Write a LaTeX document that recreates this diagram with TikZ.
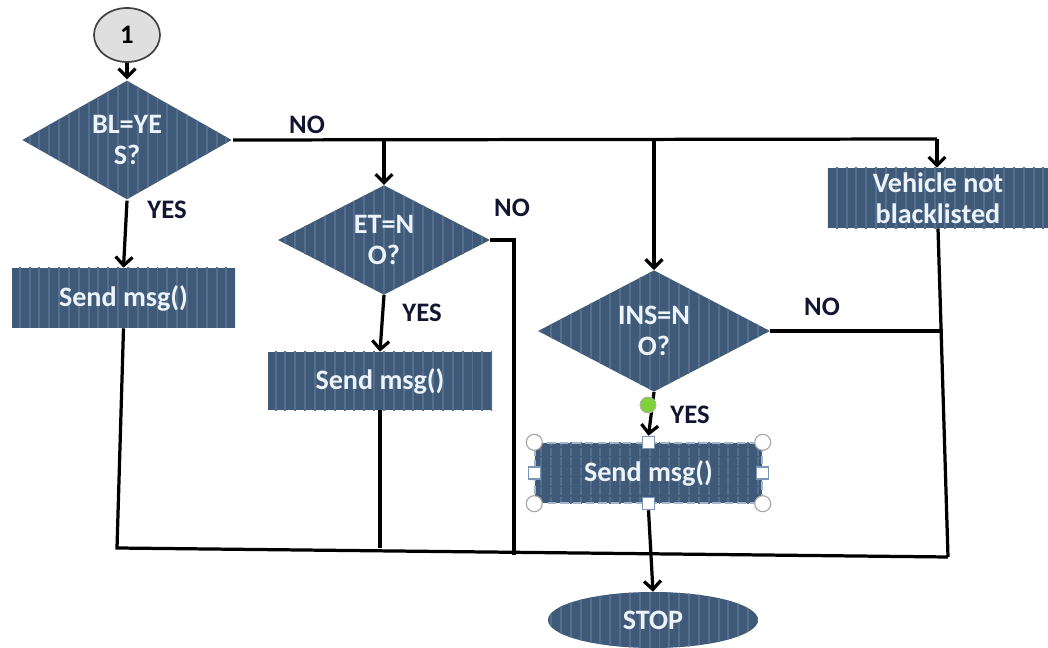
\documentclass[tikz,border=0pt]{standalone}
\usepackage{fontspec}
\setmainfont{Carlito}
\usepackage{xcolor}
\definecolor{shapeblue}{RGB}{63,90,120}
\definecolor{stripeblue}{RGB}{84,110,140}
\definecolor{textblue}{RGB}{236,243,251}
\definecolor{labelnavy}{RGB}{18,22,48}
\definecolor{handleblue}{RGB}{122,150,184}
\definecolor{dotgreen}{RGB}{128,208,60}
\usetikzlibrary{arrows.meta,calc,positioning,shapes.geometric,patterns.meta}

\begin{document}
\begin{tikzpicture}[
  x=0.025cm,
  y=-0.025cm,
  flow/.style={line width=2.3pt,black,-{Straight Barb[length=6pt,width=12pt]}},
  edge/.style={line width=2.3pt,black},
  shapefill/.style={
    preaction={fill=shapeblue},
    pattern={Lines[angle=90,distance=7pt,line width=1.4pt]},
    pattern color=stripeblue
  },
  decision/.style={
    diamond,shapefill,inner sep=0pt,align=center,
    text=textblue,font=\fontsize{20}{22}\selectfont\bfseries
  },
  process/.style={
    rectangle,shapefill,inner sep=0pt,align=center,
    text=textblue,font=\fontsize{20}{22}\selectfont\bfseries
  },
  terminal/.style={
    ellipse,shapefill,inner sep=0pt,
    text=textblue,font=\fontsize{20}{22}\selectfont\bfseries
  },
  connector/.style={
    ellipse,fill=gray!25,draw=black!75,line width=1.2pt,
    font=\fontsize{19}{21}\selectfont\bfseries
  },
  edgelabel/.style={text=labelnavy,font=\fontsize{19}{21}\selectfont\bfseries},
  handleround/.style={circle,fill=white,draw=gray!70,line width=0.8pt,
    minimum size=0.4cm,inner sep=0pt},
  handlesquare/.style={rectangle,fill=white,draw=handleblue,line width=0.8pt,
    minimum size=0.3cm,inner sep=0pt}
]
\useasboundingbox (0,0) rectangle (1048,648);

% Start connector and first decision
\node[connector,minimum width=1.65cm,minimum height=1.35cm] (one) at (127,35) {1};
\node[decision,minimum width=5.25cm,minimum height=2.65cm] (bl) at (127,140) {BL=YE\\S?};

% Second and third decisions
\node[decision,minimum width=5.3cm,minimum height=2.5cm] (et) at (384,240) {ET=N\\O?};
\node[decision,minimum width=5.8cm,minimum height=2.55cm] (ins) at (654,331) {INS=N\\O?};

% Process boxes
\node[process,minimum width=5.575cm,minimum height=1.5cm] (sendA) at (123.5,298) {Send msg()};
\node[process,minimum width=5.6cm,minimum height=1.45cm] (sendB) at (380,381) {Send msg()};
\node[process,minimum width=5.675cm,minimum height=1.5cm,
  draw=handleblue!70!white,dash pattern=on 6pt off 3pt,line width=1pt]
  (sendC) at (648.5,473) {Send msg()};
\node[process,minimum width=5.5cm,minimum height=1.5cm] (veh) at (938,198) {Vehicle not\\blacklisted};

% Terminal
\node[terminal,minimum width=5.25cm,minimum height=1.4cm] (stop) at (653,620) {STOP};

% Junction points
\coordinate (topR) at (937,139);
\coordinate (etTurn) at (514,240);
\coordinate (etDown) at (514,555);
\coordinate (insNo) at (943,331);
\coordinate (botL) at (117,548);
\coordinate (botR) at (948,557);

% Main flow
\draw[flow] (one) -- (bl);
\draw[edge] (bl.east) -- (topR);
\draw[flow] (et.north |- bl.east) -- (et.north);
\draw[flow] (ins.north |- bl.east) -- (ins.north);
\draw[flow] (topR) -- (veh.north -| topR);

\draw[flow] (bl.south) -- (sendA.north);
\draw[flow] (et.south) -- (sendB.north);

\draw[edge] (et.east) -- (etTurn) -- (etDown);
\draw[edge] (ins.east) -- (insNo);

% Collecting line
\draw[edge] (sendA.south) -- (botL) -- (botR);
\draw[edge] (sendB.south) -- (sendB.south |- botL);
\draw[edge] (veh.south) -- (botR);

% Selection handles round the third box
\foreach \a in {north west,north east,south west,south east}
  \node[handleround] at (sendC.\a) {};
\foreach \a/\n in {north/hN,south/hS,east/hE,west/hW}
  \node[handlesquare] (\n) at (sendC.\a) {};

\draw[flow] (ins.south) -- (hN.north);
\node[circle,fill=dotgreen,draw=gray!60,line width=0.6pt,minimum size=0.4cm,inner sep=0pt]
  (dot) at (648,405) {};
\draw[flow] (hS.south) -- (stop.north);

% Edge labels
\node[edgelabel] (noBL) at (307,125) {NO};
\node[edgelabel] (yesBL) at (167,210) {YES};
\node[edgelabel] (noET) at (512,208) {NO};
\node[edgelabel] (yesET) at (422,313) {YES};
\node[edgelabel] (noINS) at (822,307) {NO};
\node[edgelabel] (yesINS) at (690,415) {YES};

\end{tikzpicture}
\end{document}
